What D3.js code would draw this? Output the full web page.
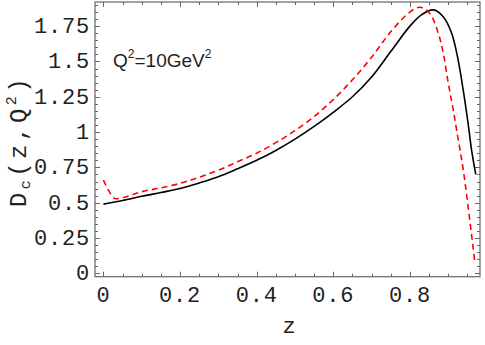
<!DOCTYPE html>
<html>
<head>
<meta charset="utf-8">
<script src="https://cdn.jsdelivr.net/npm/d3@7"></script>
<style>
  body { margin: 0; background: #fff; }
</style>
</head>
<body>
<div id="chart"></div>
<script>
// data
var blackZ = [0, 0.05, 0.1, 0.15, 0.2, 0.25, 0.3, 0.35, 0.4, 0.45, 0.5, 0.55, 0.6, 0.65, 0.7, 0.75, 0.8, 0.83, 0.861, 0.887, 0.909, 0.926, 0.939, 0.952, 0.961, 0.972];
var blackV = [0.49, 0.515, 0.545, 0.572, 0.60, 0.64, 0.684, 0.74, 0.80, 0.87, 0.95, 1.04, 1.14, 1.25, 1.39, 1.57, 1.75, 1.83, 1.865, 1.817, 1.70, 1.51, 1.30, 1.06, 0.873, 0.70];

var redZ = [0, 0.015, 0.03, 0.05, 0.1, 0.15, 0.2, 0.25, 0.3, 0.35, 0.4, 0.45, 0.5, 0.55, 0.6, 0.65, 0.7, 0.75, 0.8, 0.826, 0.852, 0.874, 0.887, 0.9, 0.913, 0.926, 0.939, 0.952, 0.97];
var redV = [0.66, 0.58, 0.53, 0.535, 0.578, 0.605, 0.637, 0.68, 0.73, 0.79, 0.85, 0.925, 1.01, 1.11, 1.23, 1.37, 1.53, 1.71, 1.85, 1.884, 1.84, 1.70, 1.56, 1.35, 1.16, 0.95, 0.74, 0.47, 0.07];

var xTicks = [0, 0.2, 0.4, 0.6, 0.8];
var xTickLabels = ['0', '0.2', '0.4', '0.6', '0.8'];
var yTicks = [0, 0.25, 0.5, 0.75, 1, 1.25, 1.5, 1.75];
var yTickLabels = ['0', '0.25', '0.5', '0.75', '1', '1.25', '1.5', '1.75'];

// setup
var width = 485, height = 345;
var plotL = 95, plotR = 480, plotT = 2, plotB = 276.7;
var mono = '"Liberation Mono", "Courier New", monospace';

var svg = d3.select('#chart').append('svg')
    .attr('width', width).attr('height', height);

var x = d3.scaleLinear().domain([-0.022, 0.983]).range([plotL, plotR]);
var y = d3.scaleLinear().domain([-0.024, 1.921]).range([plotB, plotT]);

// minor ticks every 0.05
var xMinor = d3.range(0, 0.98, 0.05);
var yMinor = d3.range(0, 1.92, 0.05);

var frameColor = '#666';

// ticks on all four sides, pointing inward
function isMajor(v, step) {
    return Math.abs(v / step - Math.round(v / step)) < 1e-6;
}
var ticks = svg.append('g').attr('stroke', frameColor).attr('stroke-width', 1);
xMinor.forEach(function(v) {
    var len = isMajor(v, 0.2) ? 5 : 3;
    var px = Math.round(x(v)) + 0.5;
    ticks.append('line').attr('x1', px).attr('x2', px).attr('y1', plotB).attr('y2', plotB - len);
    ticks.append('line').attr('x1', px).attr('x2', px).attr('y1', plotT).attr('y2', plotT + len);
});
yMinor.forEach(function(v) {
    var len = isMajor(v, 0.25) ? 5 : 3;
    var py = Math.round(y(v)) + 0.5;
    ticks.append('line').attr('x1', plotL).attr('x2', plotL + len).attr('y1', py).attr('y2', py);
    ticks.append('line').attr('x1', plotR).attr('x2', plotR - len).attr('y1', py).attr('y2', py);
});

// frame
svg.append('rect')
    .attr('x', plotL).attr('y', plotT)
    .attr('width', plotR - plotL).attr('height', plotB - plotT)
    .attr('fill', 'none').attr('stroke', frameColor).attr('stroke-width', 1.2);

// tick labels
svg.append('g').selectAll('text')
    .data(xTicks).enter().append('text')
    .attr('x', function(d) { return x(d); })
    .attr('y', 302)
    .attr('text-anchor', 'middle')
    .attr('font-family', mono).attr('font-size', 22)
    .attr('letter-spacing', 0.8)
    .attr('fill', '#222')
    .text(function(d, i) { return xTickLabels[i]; });

svg.append('g').selectAll('text')
    .data(yTicks).enter().append('text')
    .attr('x', 90)
    .attr('y', function(d) { return y(d) + 7; })
    .attr('text-anchor', 'end')
    .attr('font-family', mono).attr('font-size', 22)
    .attr('letter-spacing', 0.8)
    .attr('fill', '#222')
    .text(function(d, i) { return yTickLabels[i]; });

// axis titles
svg.append('text')
    .attr('x', 289).attr('y', 333)
    .attr('text-anchor', 'middle')
    .attr('font-family', mono).attr('font-size', 22)
    .attr('fill', '#222')
    .text('z');

var ylab = svg.append('text')
    .attr('transform', 'translate(26,141) rotate(-90)')
    .attr('text-anchor', 'middle')
    .attr('font-family', mono).attr('font-size', 24)
    .attr('letter-spacing', 3.5)
    .attr('fill', '#222');
ylab.append('tspan').text('D');
ylab.append('tspan').attr('font-size', 15).attr('dy', 4).text('c');
ylab.append('tspan').attr('dy', -4).text('(z,Q');
ylab.append('tspan').attr('font-size', 15).attr('dy', -10).text('2');
ylab.append('tspan').attr('dy', 10).text(')');

// curves
var line = d3.line()
    .x(function(d) { return x(d[0]); })
    .y(function(d) { return y(d[1]); })
    .curve(d3.curveCatmullRom.alpha(0.5));

svg.append('path')
    .datum(d3.zip(blackZ, blackV))
    .attr('d', line)
    .attr('fill', 'none').attr('stroke', '#000').attr('stroke-width', 1.6);

svg.append('path')
    .datum(d3.zip(redZ, redV))
    .attr('d', line)
    .attr('fill', 'none').attr('stroke', '#f00').attr('stroke-width', 1.6)
    .attr('stroke-dasharray', '6,4');

// annotation
var ann = svg.append('text')
    .attr('x', 113).attr('y', 67)
    .attr('font-family', '"Liberation Sans", Arial, sans-serif').attr('font-size', 19)
    .attr('fill', '#222');
ann.append('tspan').text('Q');
ann.append('tspan').attr('font-size', 12).attr('dy', -9).text('2');
ann.append('tspan').attr('dy', 9).text('=10GeV');
ann.append('tspan').attr('font-size', 12).attr('dy', -9).text('2');
</script>
</body>
</html>
